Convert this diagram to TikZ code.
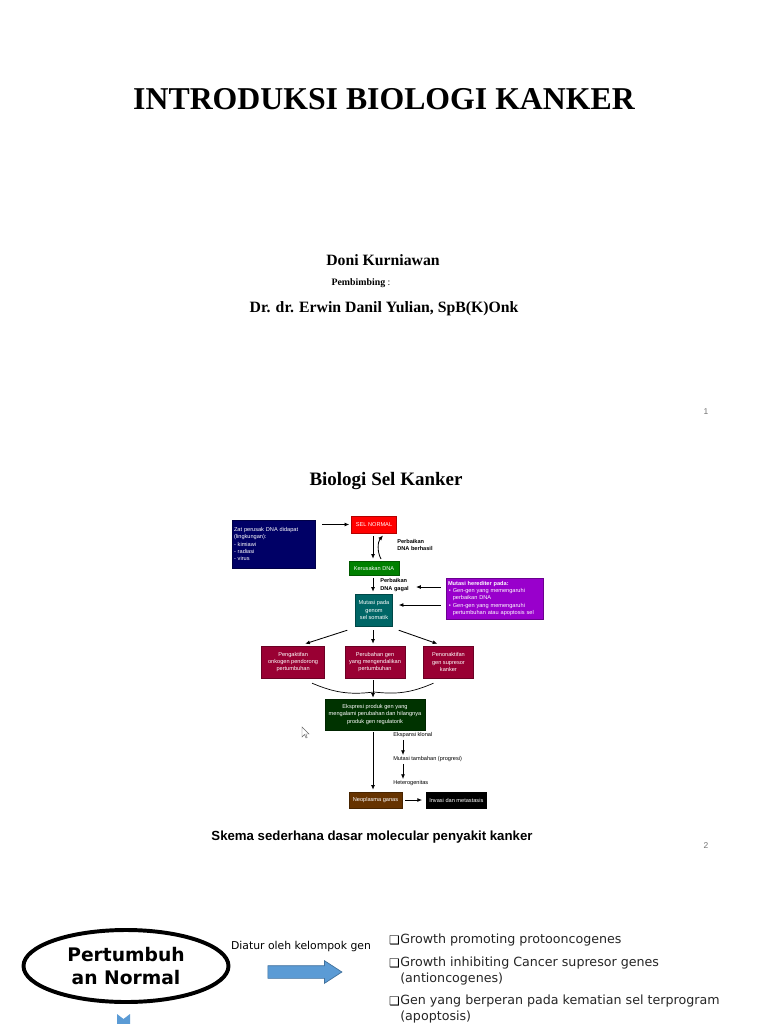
\documentclass[tikz,border=0pt]{standalone}
\usepackage{fontspec}
\setmainfont{Liberation Serif}
\newfontfamily\arialfont{Liberation Sans}
\newfontfamily\dejavufont{DejaVu Sans}
\usetikzlibrary{shapes.geometric, shapes.arrows, arrows.meta, positioning, calc}
\definecolor{zatnavy}{RGB}{0,0,102}
\definecolor{selred}{RGB}{255,0,0}
\definecolor{rusakgreen}{RGB}{0,128,0}
\definecolor{herpurple}{RGB}{153,0,204}
\definecolor{mutteal}{RGB}{0,102,102}
\definecolor{genmaroon}{RGB}{153,0,51}
\definecolor{ekspgreen}{RGB}{0,51,0}
\definecolor{neobrown}{RGB}{102,51,0}
\definecolor{pptblue}{RGB}{91,155,213}
\definecolor{pptblueline}{RGB}{65,113,156}
\newlength\pxu
\setlength\pxu{0.025cm}
\newcommand\flowfont{\arialfont\fontsize{4}{5.3}\selectfont}

\begin{document}
\begin{tikzpicture}[
    x=0.025cm, y=-0.025cm,
    cellbox/.style={rectangle, fill=#1, draw=#1!70!black, line width=0.3pt, text=white, align=center, font=\flowfont, inner sep=1pt},
    flowlabel/.style={anchor=west, align=left, font=\flowfont, inner sep=0pt},
    arrow/.style={-{Latex[length=3.4pt,width=2.8pt]}, line width=0.6pt},
    line/.style={line width=0.5pt},
    titletext/.style={font=\bfseries\fontsize{22.6}{27}\selectfont},
    serifbold/.style={font=\bfseries\fontsize{11.2}{13}\selectfont},
    pagenum/.style={font=\arialfont\fontsize{6}{7}\selectfont, text=black!55},
    itemtext/.style={anchor=west, align=left, inner sep=0pt, font=\dejavufont\fontsize{9}{11.3}\selectfont, text=black!85},
    bulletmark/.style={inner sep=0pt, font=\dejavufont\fontsize{8.5}{9}\selectfont}
]
    \fill[white] (0,0) rectangle (768,1024);
    \useasboundingbox (0,0) rectangle (768,1024);

    \node[titletext] (title) at (384,99) {INTRODUKSI BIOLOGI KANKER};
    \node[serifbold] (author) at (383,260) {Doni Kurniawan};
    \node[font=\fontsize{7}{8}\selectfont] (pembimbing) at (361,283) {\textbf{Pembimbing} :};
    \node[serifbold] (supervisor) at (384,309) {Dr. dr. Erwin Danil Yulian, SpB(K)Onk};
    \node[pagenum] (page1) at (706,412) {1};

    \node[font=\bfseries\fontsize{13.5}{16}\selectfont] (slidetitle) at (386,481) {Biologi Sel Kanker};

    \node[cellbox=zatnavy, align=left, text width=79\pxu, minimum width=83\pxu, minimum height=48\pxu] (zat) at (273.5,544) {Zat perusak DNA didapat\\(lingkungan):\\- kimiawi\\- radiasi\\- virus};
    \node[cellbox=selred, minimum width=45\pxu, minimum height=17\pxu] (selnormal) at (374,524.5) {SEL NORMAL};
    \node[cellbox=rusakgreen, minimum width=50\pxu, minimum height=14\pxu] (kerusakan) at (374,568) {Kerusakan DNA};
    \node[cellbox=mutteal, minimum width=37\pxu, minimum height=32\pxu] (mutasi) at (374,610) {Mutasi pada\\genom\\sel somatik};
    \node[cellbox=herpurple, align=left, text width=93\pxu, minimum width=97\pxu, minimum height=41\pxu] (herediter) at (494.5,598.5) {\textbf{Mutasi herediter pada:}\\\,• Gen-gen yang memengaruhi\\\,\phantom{• }perbaikan DNA\\\,• Gen-gen yang memengaruhi\\\,\phantom{• }pertumbuhan atau apoptosis sel};
    \node[cellbox=genmaroon, minimum width=60\pxu, minimum height=32\pxu] (ubah) at (375,662) {Perubahan gen\\yang mengendalikan\\pertumbuhan};
    \node[cellbox=genmaroon, minimum width=63\pxu, minimum height=32\pxu, left=14.2pt of ubah] (aktif) {Pengaktifan\\onkogen pendorong\\pertumbuhan};
    \node[cellbox=genmaroon, minimum width=50\pxu, minimum height=32\pxu, right=12.8pt of ubah] (nonaktif) {Penonaktifan\\gen supresor\\kanker};
    \node[cellbox=ekspgreen, minimum width=100\pxu, minimum height=31\pxu] (ekspresi) at (375,714.5) {Ekspresi produk gen yang\\mengalami perubahan dan hilangnya\\produk gen regulatorik};
    \node[cellbox=neobrown, minimum width=53\pxu, minimum height=16\pxu] (neoplasma) at (375.5,800) {Neoplasma ganas};
    \node[cellbox=black, minimum width=60\pxu, minimum height=16\pxu, right=17pt of neoplasma] (invasi) {Invasi dan metastasis};

    \node[flowlabel, font=\flowfont\bfseries] (berhasil) at (397,545) {Perbaikan\\DNA berhasil};
    \node[flowlabel, font=\flowfont\bfseries] (gagal) at (380,585) {Perbaikan\\DNA gagal};
    \node[flowlabel] (klonal) at (393,735) {Ekspansi klonal};
    \node[flowlabel] (progresi) at (393,759) {Mutasi tambahan (progresi)};
    \node[flowlabel] (hetero) at (393,783) {Heterogenitas};
    \coordinate (gagalpt) at (416,587);
    \coordinate (join) at (374,692);

    \draw[arrow, shorten <=7\pxu, shorten >=2\pxu] (zat.east |- selnormal.west) -- (selnormal.west);
    \draw[arrow, shorten <=3\pxu, shorten >=2\pxu] ([xshift=-1\pxu]selnormal.south) -- ([xshift=-1\pxu]kerusakan.north);
    \draw[arrow, shorten <=2\pxu, shorten >=3\pxu] ([xshift=8\pxu]kerusakan.north) to[bend left=35] ([xshift=11\pxu]selnormal.south);
    \draw[arrow, shorten <=3\pxu, shorten >=2\pxu] ([xshift=-1\pxu]kerusakan.south) -- ([xshift=-1\pxu]mutasi.north);
    \draw[arrow, shorten <=5\pxu] (herediter.west |- gagalpt) -- (gagalpt);
    \draw[arrow, shorten <=5\pxu, shorten >=6\pxu] ([yshift=5\pxu]mutasi.east -| herediter.west) -- ([yshift=5\pxu]mutasi.east);
    \draw[arrow] ($(mutasi.south west)+(-8,4)$) -- ($(aktif.north)+(12,-2)$);
    \draw[arrow, shorten <=4\pxu, shorten >=2\pxu] ([xshift=-1\pxu]mutasi.south) -- ([xshift=-1\pxu]mutasi.south |- ubah.north);
    \draw[arrow] ($(mutasi.south east)+(6,4)$) -- ($(nonaktif.north)+(-11,-2)$);
    \draw[line] ($(aktif.south)+(19,5)$) to[bend right=15] (join);
    \draw[line] ($(nonaktif.south)+(-15,5)$) to[bend left=15] (join);
    \draw[arrow, shorten <=2\pxu, shorten >=1\pxu] ([xshift=-2\pxu]ubah.south) -- ([xshift=-2\pxu]ubah.south |- ekspresi.north);
    \draw[arrow, shorten <=2\pxu, shorten >=2\pxu] ([xshift=-2\pxu]ekspresi.south) -- ([xshift=-2\pxu]ekspresi.south |- neoplasma.north);
    \draw[arrow, shorten <=2\pxu, shorten >=1\pxu] ([xshift=10\pxu]klonal.south west) -- ([xshift=10\pxu]progresi.north west);
    \draw[arrow, shorten <=2\pxu, shorten >=1\pxu] ([xshift=10\pxu]progresi.south west) -- ([xshift=10\pxu]hetero.north west);
    \draw[arrow, shorten <=3\pxu, shorten >=4\pxu] (neoplasma.east) -- (invasi.west);

    \draw[black!60, fill=white, line width=0.3pt] (302,727) -- (302,737) -- (304.5,734.5) -- (306,738) -- (307.2,737.5) -- (305.8,734) -- (309,734) -- cycle;

    \node[font=\arialfont\bfseries\fontsize{9.4}{11}\selectfont] (caption) at (372,837) {Skema sederhana dasar molecular penyakit kanker};
    \node[pagenum] (page2) at (706,846) {2};

    \node[ellipse, draw, line width=2.8pt, minimum width=205\pxu, minimum height=72\pxu, align=center, font=\dejavufont\bfseries\fontsize{13.3}{17}\selectfont] (growth) at (126,966) {Pertumbuh\\an Normal};
    \node[font=\dejavufont\fontsize{7.7}{9}\selectfont, inner sep=0pt] (diatur) at (301,947) {Diatur oleh kelompok gen};
    \node[single arrow, fill=pptblue, draw=pptblueline, line width=0.5pt, inner sep=0pt, inner ysep=6\pxu, minimum width=22\pxu, minimum height=74\pxu, single arrow head extend=5\pxu, single arrow tip angle=66] (blockarrow) at (300,972) {};
    \node[bulletmark] (b1) at (394.5,940) {❑};
    \node[bulletmark] (b2) at (394.5,963) {❑};
    \node[bulletmark] (b3) at (394.5,1001) {❑};
    \node[itemtext] (g1) at (400,940) {Growth promoting protooncogenes};
    \node[itemtext] (g2) at (400,971) {Growth inhibiting Cancer supresor genes\\(antioncogenes)};
    \node[itemtext] (g3) at (400,1009) {Gen yang berperan pada kematian sel terprogram\\(apoptosis)};
    \fill[pptblue] (117,1014) -- (123.5,1019) -- (130,1014) -- (130,1030) -- (117,1030) -- cycle;
\end{tikzpicture}
\end{document}
